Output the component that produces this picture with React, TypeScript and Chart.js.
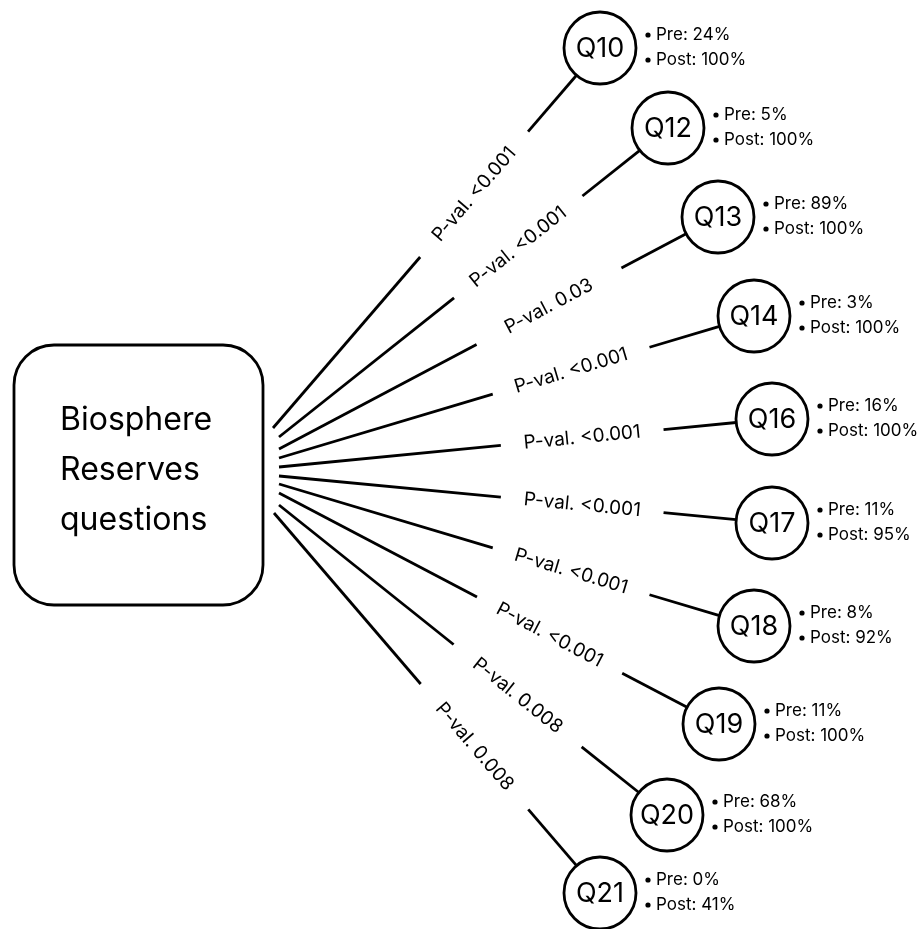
import React, { useEffect, useRef } from "react";
import { Chart, registerables } from "chart.js";

Chart.register(...registerables);

// ---- data ----
const questions = ["Q10", "Q12", "Q13", "Q14", "Q16", "Q17", "Q18", "Q19", "Q20", "Q21"];
const preValues = [24, 5, 89, 3, 16, 11, 8, 11, 68, 0];
const postValues = [100, 100, 100, 100, 100, 95, 92, 100, 100, 41];
const pValues = ["<0.001", "<0.001", "0.03", "<0.001", "<0.001", "<0.001", "<0.001", "<0.001", "0.008", "0.008"];
const hubTitle = ["Biosphere", "Reserves", "questions"];

// ---- layout (diagram coordinates) ----
const nodeX = [600, 668, 718, 754, 772, 772, 754, 719, 667, 600];
const nodeY = [48, 128, 217, 316, 419, 523, 626, 724, 815, 893];
const spokeX = [273, 279, 279, 279, 279, 279, 279, 279, 279, 274];
const spokeY = [428, 437, 449, 458, 467, 476, 484, 493, 505, 513];
const box = { x0: 14, y0: 345, x1: 263, y1: 605, r: 40 };
const NODE_R = 36;
const GAP_START = 0.45;
const GAP_END = 0.78;
const LABEL_T = 0.615;
const FONT = "Inter, 'Open Sans', sans-serif";

const lerp = (a: number, b: number, t: number) => a + (b - a) * t;

const diagramPlugin = {
  id: "diagram",
  beforeDatasetsDraw(chart: any) {
    const { ctx, scales } = chart;
    const xs = scales.x, ys = scales.y;
    const x0 = xs.getPixelForValue(box.x0), x1 = xs.getPixelForValue(box.x1);
    const y0 = ys.getPixelForValue(box.y0), y1 = ys.getPixelForValue(box.y1);
    ctx.save();
    ctx.beginPath();
    ctx.roundRect(x0, y0, x1 - x0, y1 - y0, box.r);
    ctx.fillStyle = "#fff";
    ctx.fill();
    ctx.lineWidth = 2.8;
    ctx.strokeStyle = "#000";
    ctx.stroke();
    ctx.fillStyle = "#000";
    ctx.font = `32px ${FONT}`;
    ctx.textAlign = "left";
    ctx.textBaseline = "middle";
    hubTitle.forEach((line, i) => {
      ctx.fillText(line, xs.getPixelForValue(60), ys.getPixelForValue(420 + i * 50));
    });
    ctx.restore();
  },
  afterDatasetsDraw(chart: any) {
    const { ctx, scales } = chart;
    const xs = scales.x, ys = scales.y;
    ctx.save();
    ctx.fillStyle = "#000";
    questions.forEach((q, i) => {
      const sx = xs.getPixelForValue(spokeX[i]), sy = ys.getPixelForValue(spokeY[i]);
      const cx = xs.getPixelForValue(nodeX[i]), cy = ys.getPixelForValue(nodeY[i]);
      // p-value label along the spoke
      const ang = Math.atan2(cy - sy, cx - sx);
      ctx.save();
      ctx.translate(lerp(sx, cx, LABEL_T), lerp(sy, cy, LABEL_T));
      ctx.rotate(ang);
      ctx.font = `19px ${FONT}`;
      ctx.textAlign = "center";
      ctx.textBaseline = "middle";
      ctx.fillText(`P-val. ${pValues[i]}`, 0, 0);
      ctx.restore();
      // question label
      ctx.font = `27px ${FONT}`;
      ctx.textAlign = "center";
      ctx.textBaseline = "middle";
      ctx.fillText(q, cx, cy + 1);
      // pre/post
      ctx.font = `17px ${FONT}`;
      ctx.textAlign = "left";
      const lines = [`Pre: ${preValues[i]}%`, `Post: ${postValues[i]}%`];
      lines.forEach((t, j) => {
        const ty = cy + (j === 0 ? -13 : 12);
        ctx.beginPath();
        ctx.arc(cx + 48, ty, 2.6, 0, Math.PI * 2);
        ctx.fill();
        ctx.fillText(t, cx + 56, ty);
      });
    });
    ctx.restore();
  },
};

export default function App() {
  const ref = useRef<HTMLCanvasElement>(null);
  useEffect(() => {
    if (!ref.current) return;
    const segDatasets: any[] = [];
    questions.forEach((_, i) => {
      const sx = spokeX[i], sy = spokeY[i], cx = nodeX[i], cy = nodeY[i];
      const len = Math.hypot(cx - sx, cy - sy);
      const tEnd = 1 - NODE_R / len;
      const segs = [
        [0, GAP_START],
        [GAP_END, tEnd],
      ];
      segs.forEach(([a, b]) => {
        segDatasets.push({
          type: "scatter",
          showLine: true,
          data: [
            { x: lerp(sx, cx, a), y: lerp(sy, cy, a) },
            { x: lerp(sx, cx, b), y: lerp(sy, cy, b) },
          ],
          borderColor: "#000",
          borderWidth: 2.8,
          pointRadius: 0,
          order: 2,
        });
      });
    });
    const chart = new Chart(ref.current, {
      type: "scatter",
      data: {
        datasets: [
          {
            data: questions.map((_, i) => ({ x: nodeX[i], y: nodeY[i] })),
            pointRadius: NODE_R,
            pointBackgroundColor: "#fff",
            pointBorderColor: "#000",
            pointBorderWidth: 2.8,
            order: 1,
            clip: false,
          } as any,
          ...segDatasets,
        ],
      },
      options: {
        animation: false,
        responsive: false,
        events: [],
        layout: { padding: 0, autoPadding: false },
        plugins: { legend: { display: false }, tooltip: { enabled: false } },
        scales: {
          x: { type: "linear", min: 0, max: 922, display: false },
          y: { type: "linear", min: 0, max: 929, reverse: true, display: false },
        },
      } as any,
      plugins: [diagramPlugin],
    });
    return () => chart.destroy();
  }, []);
  return (
    <div style={{ position: "fixed", left: 0, top: 0, width: 922, height: 929, background: "#fff" }}>
      <canvas ref={ref} width={922} height={929} />
    </div>
  );
}
